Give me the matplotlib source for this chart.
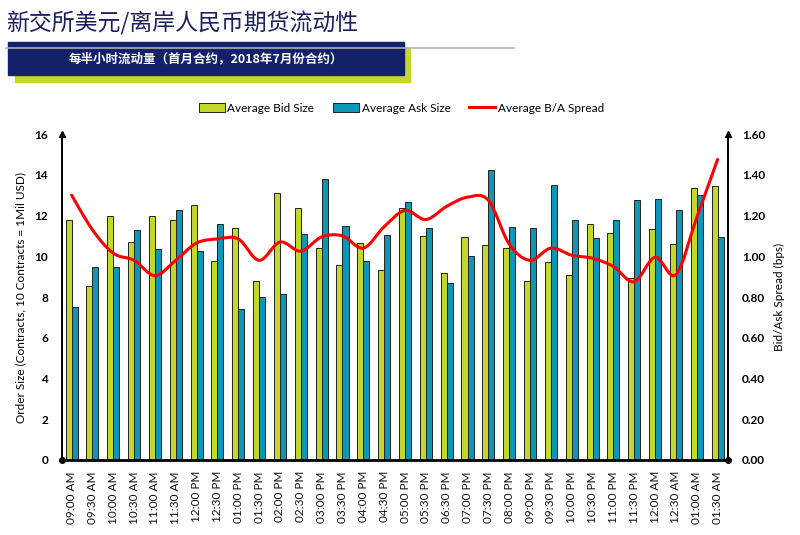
import matplotlib
matplotlib.use("Agg")
import numpy as np
from matplotlib import pyplot as plt
from matplotlib.path import Path
from matplotlib.patches import PathPatch, Rectangle
from matplotlib.lines import Line2D

plt.rcParams['font.family'] = ['Lato', 'Noto Sans CJK SC', 'DejaVu Sans']

times = ["09:00 AM", "09:30 AM", "10:00 AM", "10:30 AM", "11:00 AM", "11:30 AM",
         "12:00 PM", "12:30 PM", "01:00 PM", "01:30 PM", "02:00 PM", "02:30 PM",
         "03:00 PM", "03:30 PM", "04:00 PM", "04:30 PM", "05:00 PM", "05:30 PM",
         "06:30 PM", "07:00 PM", "07:30 PM", "08:00 PM", "09:00 PM", "09:30 PM",
         "10:00 PM", "10:30 PM", "11:00 PM", "11:30 PM", "12:00 AM", "12:30 AM",
         "01:00 AM", "01:30 AM"]
bid_size = [11.8, 8.55, 12.0, 10.7, 12.0, 11.8, 12.5, 9.75, 11.4, 8.8, 13.1, 12.35,
            10.4, 9.55, 10.65, 9.35, 12.35, 11.0, 9.2, 10.95, 10.55, 10.4, 8.8, 9.7,
            9.1, 11.6, 11.15, 8.95, 11.35, 10.6, 13.35, 13.45]
ask_size = [7.5, 9.45, 9.45, 11.3, 10.35, 12.25, 10.25, 11.6, 7.4, 8.0, 8.15, 11.1,
            13.8, 11.5, 9.75, 11.05, 12.65, 11.4, 8.7, 10.0, 14.25, 11.45, 11.4, 13.5,
            11.8, 10.9, 11.8, 12.75, 12.8, 12.25, 13.0, 10.95]
spread = [1.30, 1.13, 1.015, 0.98, 0.905, 0.98, 1.065, 1.085, 1.085, 0.98, 1.07, 1.025,
          1.095, 1.10, 1.04, 1.145, 1.225, 1.18, 1.245, 1.29, 1.275, 1.06, 0.98, 1.04,
          1.005, 0.99, 0.95, 0.875, 0.995, 0.91, 1.19, 1.475]

lime = "#C3D82B"
teal = "#0B97B5"
navy = "#13216A"

fig = plt.figure(figsize=(8, 5.35), dpi=100)

# header
fig.text(0.008, 1 - 23 / 535, "新交所美元/离岸人民币期货流动性", fontsize=16.5, color="#1B1F5E",
         family="Noto Sans CJK SC", va="center", ha="left")
fig.add_artist(Line2D([0.007, 0.642], [1 - 47.5 / 535] * 2, color="#B0B0B0", lw=1.2,
                      transform=fig.transFigure))
fig.add_artist(Rectangle((0.019, 1 - 82 / 535), 0.494, 34 / 535, color=lime,
                         transform=fig.transFigure))
fig.add_artist(Rectangle((0.010, 1 - 75 / 535), 0.495, 33 / 535, color=navy,
                         transform=fig.transFigure))
fig.text(0.257, 1 - 58.5 / 535, "每半小时流动量（首月合约，2018年7月份合约）", fontsize=9,
         color="white", weight="bold", family=["Noto Sans CJK SC", "DejaVu Sans"],
         ha="center", va="center")

ax = fig.add_axes([0.0775, 0.1402, 0.8325, 0.6093])
ax2 = ax.twinx()
ax.set_zorder(1)
ax2.set_zorder(2)
ax.patch.set_visible(False)

x = np.arange(len(times))
w = 0.29
ax.bar(x - w / 2, bid_size, w, color=lime, edgecolor="#222222", linewidth=0.7,
       label="Average Bid Size")
ax.bar(x + w / 2, ask_size, w, color=teal, edgecolor="#222222", linewidth=0.7,
       label="Average Ask Size")

# smooth line like Excel (Catmull-Rom drawn as Bezier segments)
pts = np.column_stack([x, spread])
verts = [pts[0]]
codes = [Path.MOVETO]
for i in range(len(pts) - 1):
    p0 = pts[i - 1] if i > 0 else pts[i]
    p1, p2 = pts[i], pts[i + 1]
    p3 = pts[i + 2] if i + 2 < len(pts) else pts[i + 1]
    verts += [p1 + (p2 - p0) / 6, p2 - (p3 - p1) / 6, p2]
    codes += [Path.CURVE4] * 3
ax2.add_patch(PathPatch(Path(verts, codes), fill=False, edgecolor="#FF0000", lw=2.2,
                        capstyle="round"))

ax.set_xlim(-0.46, len(times) - 0.5)
ax.set_ylim(0, 16)
ax2.set_ylim(0, 1.6)
ax.set_yticks(range(0, 17, 2))
ax2.set_yticks(np.arange(0, 1.61, 0.2))
ax2.set_yticklabels([f"{v:.2f}" for v in np.arange(0, 1.61, 0.2)])
ax.set_xticks(x)
ax.set_xticklabels(times, rotation=90, fontsize=8.5, color="#111111")

for a in (ax, ax2):
    a.tick_params(axis="y", length=0, labelsize=8.5, pad=10)
    for s in a.spines.values():
        s.set_visible(False)
ax.tick_params(axis="x", length=0, pad=8)
for t in ax.get_yticklabels() + ax2.get_yticklabels():
    t.set_fontweight("bold")

ax.set_ylabel("Order Size (Contracts, 10 Contracts = 1Mil USD)", fontsize=8.5, labelpad=6)
ax2.set_ylabel("Bid/Ask Spread (bps)", fontsize=8.5, labelpad=6)

# axis lines with arrows and dots
kw = dict(transform=ax.transAxes, clip_on=False, color="black", zorder=5)
ax.plot([0, 0], [0, 1], lw=1.4, **kw)
ax.plot([1, 1], [0, 1], lw=1.4, **kw)
ax.plot([0, 1], [0, 0], lw=2, **kw)
ax.plot([0, 1], [1, 1], marker="^", ms=5, ls="none", **kw)
ax.plot([0, 1], [0, 0], marker="o", ms=4, ls="none", **kw)

handles = [Rectangle((0, 0), 1, 1, facecolor=lime, edgecolor="#222222", lw=0.7),
           Rectangle((0, 0), 1, 1, facecolor=teal, edgecolor="#222222", lw=0.7),
           Line2D([0], [0], color="#FF0000", lw=2.2)]
fig.legend(handles, ["Average Bid Size", "Average Ask Size", "Average B/A Spread"],
           loc="center", bbox_to_anchor=(0.502, 1 - 108 / 535), ncol=3, frameon=False,
           fontsize=8.5, handlelength=2.2, handleheight=0.7, handletextpad=0.2,
           columnspacing=1.6)

fig.savefig("out.png", dpi=100)
